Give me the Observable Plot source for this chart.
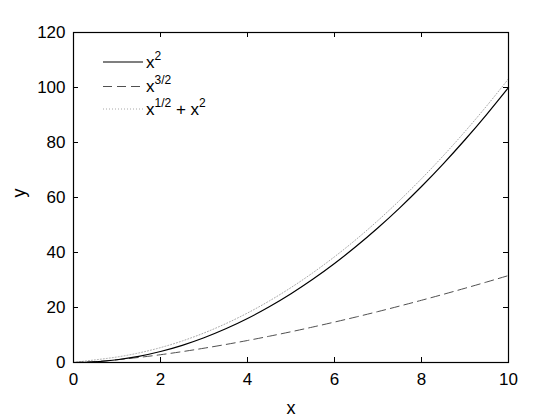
<!DOCTYPE html>
<html>
<head>
<meta charset="utf-8">
<script src="https://cdn.jsdelivr.net/npm/d3@7"></script>
<script src="https://cdn.jsdelivr.net/npm/@observablehq/plot@0.6"></script>
<style>
  body { margin: 0; background: white; }
  #chart svg { display: block; }
</style>
</head>
<body>
<div id="chart"></div>
<script>
// Sample points along x
const xValues = [0, 0.5, 1, 1.5, 2, 2.5, 3, 3.5, 4, 4.5, 5, 5.5, 6, 6.5, 7, 7.5, 8, 8.5, 9, 9.5, 10];
// Series values
const ySquare = [0, 0.25, 1, 2.25, 4, 6.25, 9, 12.25, 16, 20.25, 25, 30.25, 36, 42.25, 49, 56.25, 64, 72.25, 81, 90.25, 100];
const yThreeHalves = [0, 0.35, 1, 1.84, 2.83, 3.95, 5.2, 6.55, 8, 9.55, 11.18, 12.9, 14.7, 16.57, 18.52, 20.54, 22.63, 24.78, 27, 29.28, 31.62];
const ySqrtPlusSquare = [0, 0.96, 2, 3.47, 5.41, 7.83, 10.73, 14.12, 18, 22.37, 27.24, 32.6, 38.45, 44.79, 51.65, 59.0, 66.83, 75.17, 84.0, 93.33, 103.16];
const xTicks = [0, 2, 4, 6, 8, 10];
const yTicks = [0, 20, 40, 60, 80, 100, 120];
const seriesNames = ["x^2", "x^{3/2}", "x^{1/2} + x^2"];

const W = 560, H = 420;
const mL = 73, mR = 52, mT = 32, mB = 58;
const fw = W - mL - mR, fh = H - mT - mB;

const rows = (ys) => xValues.map((x, i) => ({x, y: ys[i]}));

const plot = Plot.plot({
  width: W, height: H,
  marginLeft: mL, marginRight: mR, marginTop: mT, marginBottom: mB,
  style: {fontFamily: "'Liberation Sans', Arial, sans-serif", fontSize: "17px", background: "white", color: "black"},
  x: {domain: [0, 10]},
  y: {domain: [0, 120]},
  marks: [
    Plot.line(rows(ySqrtPlusSquare), {x: "x", y: "y", stroke: "#a8a8a8", strokeWidth: 1, strokeDasharray: "1,2", curve: "natural"}),
    Plot.line(rows(yThreeHalves), {x: "x", y: "y", stroke: "#505050", strokeWidth: 1, strokeDasharray: "9,5", curve: "natural"}),
    Plot.line(rows(ySquare), {x: "x", y: "y", stroke: "black", strokeWidth: 1.2, curve: "natural"}),
    // inward ticks on all sides
    Plot.tickX(xTicks, {x: d => d, insetTop: fh - 5, stroke: "black"}),
    Plot.tickX(xTicks, {x: d => d, insetBottom: fh - 5, stroke: "black"}),
    Plot.tickY(yTicks, {y: d => d, insetRight: fw - 5, stroke: "black"}),
    Plot.tickY(yTicks, {y: d => d, insetLeft: fw - 5, stroke: "black"}),
    Plot.axisX(xTicks, {tickSize: 0, tickPadding: 10, label: null, fontSize: 17}),
    Plot.axisY(yTicks, {tickSize: 0, tickPadding: 8, label: null, fontSize: 17}),
    Plot.frame({stroke: "black", strokeWidth: 1.2}),
    Plot.text(["x"], {frameAnchor: "bottom", dy: 46, fontSize: 18, lineAnchor: "middle"}),
    Plot.text(["y"], {frameAnchor: "left", dx: -54, dy: 0, rotate: -90, fontSize: 18, lineAnchor: "middle"})
  ]
});

document.getElementById("chart").appendChild(plot);

// Legend (inside top-left of the axes)
const svg = d3.select(plot);
const lg = svg.append("g")
  .attr("font-family", "'Liberation Sans', Arial, sans-serif")
  .attr("font-size", 17)
  .attr("fill", "black")
  .attr("text-anchor", "start");
const styles = [
  {stroke: "black", dash: null, w: 1.2},
  {stroke: "#505050", dash: "9,5", w: 1},
  {stroke: "#a8a8a8", dash: "1,2", w: 1}
];
const rowY = [62, 86.5, 109];
const parts = [
  [["x", false], ["2", true]],
  [["x", false], ["3/2", true]],
  [["x", false], ["1/2", true], [" + x", false], ["2", true]]
];
seriesNames.forEach((name, i) => {
  const s = styles[i];
  lg.append("line").attr("x1", 103).attr("x2", 143).attr("y1", rowY[i]).attr("y2", rowY[i])
    .attr("stroke", s.stroke).attr("stroke-width", s.w).attr("stroke-dasharray", s.dash);
  const t = lg.append("text").attr("x", 146).attr("y", rowY[i] + 5.5).attr("text-anchor", "start");
  parts[i].forEach(([txt, sup], j) => {
    const ts = t.append("tspan").text(txt).attr("xml:space", "preserve");
    if (sup) ts.attr("font-size", 12).attr("dy", -8);
    else if (j > 0 && parts[i][j - 1][1]) ts.attr("dy", 8);
  });
});
</script>
</body>
</html>
